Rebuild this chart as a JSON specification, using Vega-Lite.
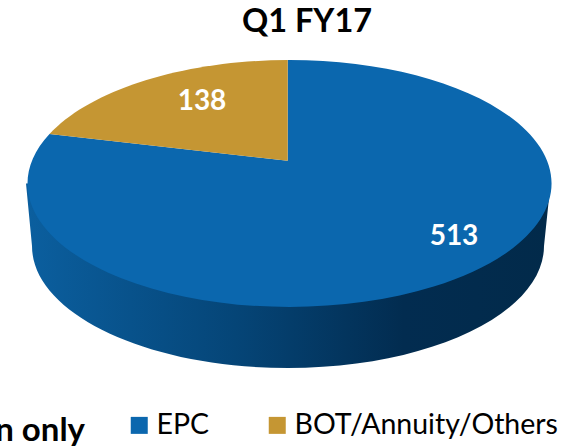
{
  "$schema": "https://vega.github.io/schema/vega-lite/v6.json",
  "width": 562,
  "height": 448,
  "padding": 0,
  "autosize": "none",
  "background": "white",
  "title": {"text": "Q1 FY17", "font": "Lato", "fontSize": 32.5, "fontWeight": "bold", "color": "#000000", "anchor": "middle", "dx": 26, "offset": -64, "baseline": "alphabetic"},
  "config": {"view": {"stroke": null}},
  "data": {"values": [
    {"segment": "EPC", "value": 513},
    {"segment": "BOT/Annuity/Others", "value": 138}
  ]},
  "layer": [
    {
      "transform": [{"filter": "datum.segment == 'EPC'"}],
      "mark": {
        "type": "point", "filled": true, "opacity": 1, "size": 4, "strokeWidth": 0,
        "shape": "M-255,-40.5 L-249,22 A256,122 0 0 0 263,22 L269.5,-40.5 Z",
        "fill": {"gradient": "linear", "x1": 0, "x2": 1, "y1": 0, "y2": 0, "stops": [
          {"offset": 0, "color": "#0B5F9F"},
          {"offset": 0.4, "color": "#054577"},
          {"offset": 0.72, "color": "#022C50"},
          {"offset": 1, "color": "#022A4A"}
        ]}
      },
      "encoding": {}
    },
    {
      "transform": [{"filter": "datum.segment == 'EPC'"}],
      "mark": {"type": "point", "filled": true, "opacity": 1, "size": 4, "strokeWidth": 0,
        "shape": "M6.7,-63.3 L6.7,-164 A262,123.5 0 1 1 -231.5,-90 Z"},
      "encoding": {"color": {"field": "segment", "type": "nominal",
        "scale": {"domain": ["EPC", "BOT/Annuity/Others"], "range": ["#0B67AE", "#C59633"]},
        "legend": {
            "title": null, "orient": "none", "legendX": 125, "legendY": 411, "direction": "horizontal", "columns": 2,
            "symbolType": "square", "symbolSize": 289, "symbolStrokeWidth": 0, "symbolOpacity": 1,
            "labelFont": "Lato", "labelFontSize": 28.5, "labelColor": "#000000", "labelOffset": 3,
            "columnPadding": 53, "labelLimit": 400, "gridAlign": "each"
          }}}
    },
    {
      "transform": [{"filter": "datum.segment == 'BOT/Annuity/Others'"}],
      "mark": {"type": "point", "filled": true, "opacity": 1, "size": 4, "strokeWidth": 0,
        "shape": "M6.7,-63.3 L-231.5,-90 A262,123.5 0 0 1 6.7,-164 Z"},
      "encoding": {"color": {"field": "segment", "type": "nominal",
        "scale": {"domain": ["EPC", "BOT/Annuity/Others"], "range": ["#0B67AE", "#C59633"]}}}
    },
    {
      "transform": [{"filter": "datum.segment == 'BOT/Annuity/Others'"}],
      "mark": {"type": "text", "font": "Lato", "fontSize": 28, "fontWeight": "bold", "color": "#FFFFFF", "dx": -79, "dy": -122},
      "encoding": {"text": {"field": "value", "type": "quantitative"}}
    },
    {
      "transform": [{"filter": "datum.segment == 'EPC'"}],
      "mark": {"type": "text", "font": "Lato", "fontSize": 28, "fontWeight": "bold", "color": "#FFFFFF", "dx": 173, "dy": 13},
      "encoding": {"text": {"field": "value", "type": "quantitative"}}
    },
    {
      "transform": [{"filter": "datum.segment == 'EPC'"}],
      "mark": {"type": "text", "text": "Construction only", "font": "Lato", "fontSize": 33, "fontWeight": "bold", "color": "#000000", "align": "right", "dx": -196, "dy": 207},
      "encoding": {}
    }
  ]
}
